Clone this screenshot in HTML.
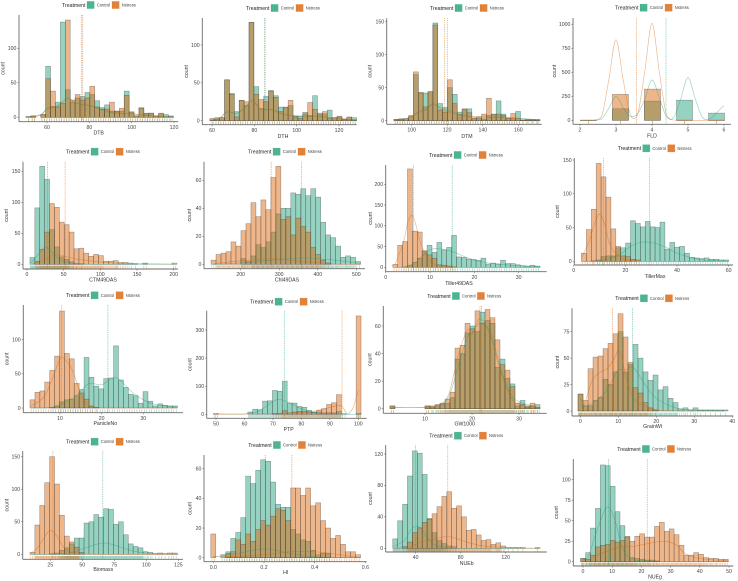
<!DOCTYPE html>
<html lang="en">
<head>
<meta charset="utf-8">
<title>Trait histograms by treatment</title>
<style>
html,body{margin:0;padding:0;background:#fff;width:738px;height:581px;overflow:hidden}
svg{display:block;filter:blur(0.35px);font-family:"Liberation Sans",sans-serif}
</style>
</head>
<body>
<svg id="chart" xmlns="http://www.w3.org/2000/svg" width="738" height="581" viewBox="0 0 738 581"></svg>
<script>
const dtbControl=[1,2,0,4,74,16,22,138,40,22,28,30,36,33,24,14,18,9,9,9,38,7,2,14,6,6,2,5,4,2];
const dtbStress=[1,2,0,4,56,38,15,20,141,25,33,25,28,45,15,12,12,22,9,13,32,8,2,13,5,6,2,6,1,1];
const dtbXTicks=[60,80,100,120];
const dtbYTicks=[0,50,100];
const dtbDensX=[50,57,60,64,67,70,74,80,90,100,110,120];
const dtbDensControl=[0,4,13,15,22,28,20,17,7,5,2,0];
const dtbDensStress=[0,3,12,14,20,27,20,17,8,5,2,0];

const dthControl=[1,4,4,54,36,12,27,20,130,45,16,32,40,33,18,18,20,6,6,11,7,33,10,9,14,4,5,2,4,4];
const dthStress=[3,2,4,54,35,5,27,25,130,35,28,25,39,31,12,17,27,5,3,9,24,15,8,12,3,4,6,2,5,1];
const dthXTicks=[60,80,100,120];
const dthYTicks=[0,50,100];
const dthDensX=[60,64,67,72,76,79,83,88,95,105,110,120,128];
const dthDensControl=[1,4,11,10,18,27,15,15,8,5,6,3,1];
const dthDensStress=[1,4,12,10,19,26,16,14,8,6,6,3,1];

const dtmControl=[2,3,3,6,70,42,42,44,148,26,20,50,40,13,18,18,3,6,2,8,10,30,10,3,3,14,1,2,2,2];
const dtmStress=[2,2,3,8,74,43,21,44,145,16,13,62,26,9,17,12,4,3,10,34,9,10,8,4,11,3,1,1,1,1];
const dtmXTicks=[100,120,140,160];
const dtmYTicks=[0,50,100,150];
const dtmDensX=[90,97,103,108,112,116,122,130,140,150,160,172];
const dtmDensControl=[0,3,12,18,26,20,14,8,4,6,4,1];
const dtmDensStress=[0,3,11,16,25,18,12,7,6,5,3,1];

const fldControl=[1,0,120,0,200,0,210,0,75];
const fldStress=[2,0,270,0,325,0,2,0,2];
const fldXTicks=[2,3,4,5,6];
const fldYTicks=[0,250,500,750,1000];
const fldDensX=[2,2.2,2.4,2.6,2.8,3,3.2,3.4,3.6,3.8,4,4.2,4.4,4.6,4.8,5,5.2,5.4,5.6,5.8,6];
const fldDensControl=[0,0,1,15,125,250,130,40,70,220,420,240,40,30,225,445,225,30,15,80,155];
const fldDensStress=[0,0,1,40,420,840,420,60,60,510,1010,510,60,3,0,0,0,0,0,0,0];

const ctmControl=[11,91,158,137,56,28,12,8,4,1,1];
const ctmStress=[0,5,24,52,98,92,68,64,52,25,26,18,13,16,14,5,5,6,3,3,2,1,0,2,0,0,0,0,0,2];
const ctmXTicks=[0,50,100,150,200];
const ctmYTicks=[0,50,100,150];
const ctmDensX=[5,15,25,35,45,55,70,90,120,160,200];
const ctmDensControl=[2,15,28,18,8,3,1,0,0,0,0];
const ctmDensStress=[0,3,8,14,15,12,8,5,2,1,0.5];

const chlControl=[0,0,0,0,0,0,4,2,6,14,12,16,23,36,40,40,51,50,54,49,54,48,30,21,19,13,5,6,5,2];
const chlStress=[3,7,8,9,16,13,24,29,44,34,46,39,62,70,32,34,21,33,27,23,12,7,3,1];
const chlXTicks=[200,300,400,500];
const chlYTicks=[0,20,40,60];
const chlDensX=[130,200,280,360,440,510];
const chlDensControl=[0,1,3,4.5,3,0.5];
const chlDensStress=[0.5,2.5,4,2,0.3,0];

const tillerControl=[0,0,1,5,12,22,38,53,36,60,42,48,77,25,24,20,19,17,22,8,10,8,17,9,9,6,4,3,5,3];
const tillerStress=[7,53,62,237,87,85,40,30,22,6,5,3,1];
const tillerXTicks=[0,10,20,30];
const tillerYTicks=[0,50,100,150,200];
const tillerDensX=[2,4,5,6,7,8,10,12,15,20,25,30,35];
const tillerDensControl=[0,0,3,8,15,25,42,45,38,17,8,4,1];
const tillerDensStress=[5,60,110,125,95,55,15,5,1,0,0,0,0];

const tillerMaxControl=[0,0,1,2,7,8,8,20,20,27,60,56,51,59,51,50,58,18,28,21,22,12,6,5,4,5,3,3,2,2];
const tillerMaxStress=[12,47,77,145,125,95,48,22,8,7,3,2];
const tillerMaxXTicks=[0,20,40,60];
const tillerMaxYTicks=[0,50,100,150];
const tillerMaxDensX=[3,6,8,10,12,14,18,22,26,30,35,40,45,50,60];
const tillerMaxDensControl=[0,0,0,1,2,4,10,22,28,28,22,12,6,2,0];
const tillerMaxDensStress=[5,30,55,70,55,25,5,1,0,0,0,0,0,0,0];

const panicleControl=[0,0,0,0,1,3,9,12,13,18,27,74,45,32,28,43,44,91,41,30,20,18,7,24,10,3,6,4,3,3];
const panicleStress=[12,23,25,38,55,76,142,80,72,36,22,13,3,1];
const panicleXTicks=[10,20,30];
const panicleYTicks=[0,50,100];
const panicleDensX=[3,6,8,10,11,13,15,17,20,22,24,27,30,33,38];
const panicleDensControl=[0,0,1,5,8,14,25,36,34,42,43,25,12,5,1];
const panicleDensStress=[3,15,40,72,72,55,20,3,0,0,0,0,0,0,0];

const ptpControl=[3,0,0,0,0,0,0,8,18,16,47,48,85,82,118,40,40,28,25,14,8,8,5,6,5,10,2,0,0,3];
const ptpStress=[0,0,0,0,0,0,0,0,0,0,0,0,2,2,13,5,8,10,10,8,6,15,20,35,41,70,0,0,0,350];
const ptpXTicks=[50,60,70,80,90,100];
const ptpYTicks=[0,100,200,300];
const ptpDensX=[50,55,60,65,70,72,75,80,85,90,94,96,98,100];
const ptpDensControl=[2,0.5,1,12,45,53,45,20,5,3,1,0,0,0];
const ptpDensStress=[0,0.5,1,2,3,4,5,6,12,25,30,3,20,85];

const gwControl=[2,0,0,0,0,0,0,2,1,2,4,4,8,36,40,55,60,56,70,64,62,30,36,22,18,2,6,2,2,3];
const gwStress=[2,0,0,0,0,0,0,2,2,3,3,7,12,44,46,62,58,71,62,72,66,50,32,28,16,4,3,1,4,1];
const gwXTicks=[10,20,30];
const gwYTicks=[0,20,40,60];
const gwDensX=[3,10,13,15,17,19,20,21,22,24,26,28,30,34];
const gwDensControl=[1,1,3,8,30,52,55,60,62,55,30,12,5,1];
const gwDensStress=[1,1,3,10,38,57,54,62,65,52,28,10,3,1];

const grainControl=[16,5,5,10,13,30,25,37,75,37,44,63,50,37,29,34,20,23,12,8,2,3,1,3,1,1,1,1,1,1];
const grainStress=[16,10,40,51,52,59,64,73,92,70,46,22,17,8,3,1];
const grainXTicks=[0,10,20,30,40];
const grainYTicks=[0,25,50,75];
const grainDensX=[0,1,3,5,7,9,10,11,12,14,17,20,25,30,38];
const grainDensControl=[5,4,7,12,20,33,39,39,39,41,25,12,3,1,0];
const grainDensStress=[12,6,28,36,40,50,57,50,32,12,5,1,0,0,0];

const biomassControl=[0,0,0,0,1,2,6,10,16,25,25,48,50,61,57,70,69,46,50,30,16,12,10,4,3,1,2,1,2,2];
const biomassStress=[3,45,75,110,150,108,60,28,19,11,3];
const biomassXTicks=[25,50,75,100,125];
const biomassYTicks=[0,50,100,150];
const biomassDensX=[10,15,20,25,30,35,40,50,60,65,70,80,90,100,125];
const biomassDensControl=[0,0,0,0,0,1,2,8,15,17,17,11,5,2,0];
const biomassDensStress=[2,10,25,37,28,12,4,1,0,0,0,0,0,0,0];

const hiControl=[0,0,2,4,13,17,27,55,50,59,66,65,51,36,34,34,19,16,12,11,5,2,3,3];
const hiStress=[16,0,0,3,4,12,9,16,11,19,25,22,28,33,32,25,47,47,42,47,35,37,25,20,13,15,9,4,4,2];
const hiXTicks=[0,0.2,0.4,0.6];
const hiXTickLabels=["0.0","0.2","0.4","0.6"];
const hiYTicks=[0,20,40,60];
const hiDensX=[0,0.1,0.2,0.3,0.4,0.5,0.58];
const hiDensControl=[0.5,3,6,3,0.5,0,0];
const hiDensStress=[1,1,2,4,4,2,0];

const nuebControl=[12,35,56,92,124,121,94,38,20,10,6,3,2];
const nuebStress=[0,0,2,8,20,26,33,37,44,53,66,72,51,54,40,23,24,17,10,11,5,7,3,1,1,1,1,0,0,1];
const nuebXTicks=[40,80,120];
const nuebYTicks=[0,40,80,120];
const nuebDensX=[20,30,35,40,45,50,55,60,68,75,85,100,120,150];
const nuebDensControl=[2,10,22,28,25,14,6,3,1,0,0,0,0,0];
const nuebDensStress=[0,1,2,5,8,10,11,13,15,13,8,3,1,0];

const nuegControl=[4,11,41,65,118,117,92,61,44,30,5,4,3,2,2,1];
const nuegStress=[4,3,8,18,20,21,26,24,26,31,25,31,34,30,30,43,48,37,40,33,20,8,8,11,9,5,4,4,3,3];
const nuegXTicks=[0,10,20,30,40,50];
const nuegYTicks=[0,25,50,75,100];
const nuegDensX=[0,2,4,6,8.5,11,13,15,18,22,28,32,35,40,50];
const nuegDensControl=[2,8,30,50,67,50,22,8,2,1,0,0,0,0,0];
const nuegDensStress=[2,3,6,10,13,16,18,18,19,22,25,20,10,4,1];

const seriesColors={control:"#1b9e77",stress:"#d95f02"};

function P(id,title,control,stress,xTicks,yTicks,densX,densC,densS,bin,means,frame,xAnchor,yAnchor,legend,titleAt,rugMax,xLabels){
  return {id,title,control,stress,xTicks,yTicks,densX,densC,densS,bin,means,frame,xAnchor,yAnchor,legend,titleAt,rugMax,xLabels};
}
const panels=[
P("dtb","DTB",dtbControl,dtbStress,dtbXTicks,dtbYTicks,dtbDensX,dtbDensControl,dtbDensStress,[50.08,2.32],[76.4,76.9],[19,178.3,15,121.7],[60,47,120,174],[0,117.3,100,48.3],[62,5],[98.7,132.7,4.3],2),
P("dth","DTH",dthControl,dthStress,dthXTicks,dthYTicks,dthDensX,dthDensControl,dthDensStress,[59,2.31],[84.9,85.1],[202.3,356.7,18,124.7],[60,212,120,339],[0,120.7,100,45],[246,8],[283,136,188],2),
P("dtm","DTM",dtmControl,dtmStress,dtmXTicks,dtmYTicks,dtmDensX,dtmDensControl,dtmDensStress,[90,2.74],[120,118.5],[386.7,541.7,18.3,124.3],[100,411.7,160,518.3],[0,120.7,150,21.7],[430,8],[467,136,371.5],2),
P("fld","FLD",fldControl,fldStress,fldXTicks,fldYTicks,fldDensX,fldDensControl,fldDensStress,[2.01,0.445],[4.39,3.57],[573,731,18,124.3],[2,580,6,724],[0,120.3,1000,24.3],[615,7.7],[652,135.7,556],1),
P("ctm","CTM49DAS",ctmControl,ctmStress,ctmXTicks,ctmYTicks,ctmDensX,ctmDensControl,ctmDensStress,[4,6.68],[28,52],[23,178,161.7,269],[0,27,200,173.7],[0,264.3,150,171.3],[66,151.7],[103,279.5,8],8),
P("chl","Chl49DAS",chlControl,chlStress,chlXTicks,chlYTicks,chlDensX,chlDensControl,chlDensStress,[123,12.94],[358,279],[204,365,161.7,268.7],[200,240.7,500,356.3],[0,264.3,60,180.3],[248,151.7],[287,279.5,191],6),
P("tiller","Tiller49DAS",tillerControl,tillerStress,tillerXTicks,tillerYTicks,tillerDensX,tillerDensControl,tillerDensStress,[1.6,1.105],[15,6.3],[385.7,546.7,165,271.7],[0,385.7,30,518.7],[0,267.3,200,184.3],[429,155],[459,283,372],2),
P("tillermax","TillerMax",tillerMaxControl,tillerMaxStress,tillerMaxXTicks,tillerMaxYTicks,tillerMaxDensX,tillerMaxDensControl,tillerMaxDensStress,[3,1.9],[29.3,11.5],[574.3,733,158,265],[0,573.7,60,728.7],[0,261.3,150,160],[617.7,148.3],[655,276,559],2),
P("panicle","PanicleNo",panicleControl,panicleStress,panicleXTicks,panicleYTicks,panicleDensX,panicleDensControl,panicleDensStress,[2.8,1.18],[21.5,10.4],[23.3,183,305,412.7],[10,60,30,143.3],[0,408,100,339.7],[66,295.3],[105.3,423.3,8.3],2),
P("ptp","PTP",ptpControl,ptpStress,ptpXTicks,ptpYTicks,ptpDensX,ptpDensControl,ptpDensStress,[49.06,1.73],[74,94.3],[206.7,366.7,310.7,418.3],[50,216,100,358.3],[0,414.3,300,330],[250,301.7],[288.7,429.3,191.7],5),
P("gw","GW1000",gwControl,gwStress,gwXTicks,gwYTicks,gwDensX,gwDensControl,gwDensStress,[2.55,1.064],[22,21.7],[383.3,546.7,306,413.3],[10,425,30,519],[0,408.7,60,326],[427.3,296],[464.7,423.7,371.5],5),
P("grain","GrainWt",grainControl,grainStress,grainXTicks,grainYTicks,grainDensX,grainDensControl,grainDensStress,[-0.6,1.316],[13.7,8.5],[572,733.3,308.3,416],[0,580.3,40,732.3],[0,411,75,331.7],[615.3,298.3],[652.7,426.3,559],6),
P("biomass","Biomass",biomassControl,biomassStress,biomassXTicks,biomassYTicks,biomassDensX,biomassDensControl,biomassDensStress,[9.1,3.84],[66,27],[22.7,183,451,559.3],[25,50.3,125,178.3],[0,554.3,150,456.7],[66,441.7],[103.3,569.3,8.3],8),
P("hi","HI",hiControl,hiStress,hiXTicks,hiYTicks,hiDensX,hiDensControl,hiDensStress,[-0.01,0.0197],[0.205,0.31],[204,366.7,455,561.7],[0,213.3,0.4,314.7],[0,557.7,60,468.7],[248.3,445],[285.7,572.3,191.7],2,hiXTickLabels),
P("nueb","NUEb",nuebControl,nuebStress,nuebXTicks,nuebYTicks,nuebDensX,nuebDensControl,nuebDensStress,[19.6,4.365],[40,68.5],[385.7,546.7,445,552],[40,415.7,120,505.7],[0,548.3,120,454],[429.3,435.7],[466.7,563,372],8),
P("nueg","NUEg",nuegControl,nuegStress,nuegXTicks,nuegYTicks,nuegDensX,nuegDensControl,nuegDensStress,[-0.8,1.684],[8.7,22],[573.3,733.3,459,566],[0,583,50,729],[0,561.7,100,479.7],[617.3,449],[655,576.7,558],6)
];

const NS="http://www.w3.org/2000/svg";
const root=document.getElementById("chart");
function el(tag,attrs,parent){
  const e=document.createElementNS(NS,tag);
  for(const k in attrs){e.setAttribute(k,attrs[k]);}
  parent.appendChild(e);
  return e;
}
function linear(a,ap,b,bp){
  return v=>ap+(v-a)*(bp-ap)/(b-a);
}
function smoothPath(pts,floor){
  let d="M"+pts[0][0].toFixed(2)+" "+pts[0][1].toFixed(2);
  for(let i=0;i<pts.length-1;i++){
    const p0=pts[Math.max(0,i-1)],p1=pts[i],p2=pts[i+1],p3=pts[Math.min(pts.length-1,i+2)];
    const c1x=p1[0]+(p2[0]-p0[0])/6,c1y=Math.min(floor,p1[1]+(p2[1]-p0[1])/6);
    const c2x=p2[0]-(p3[0]-p1[0])/6,c2y=Math.min(floor,p2[1]-(p3[1]-p1[1])/6);
    d+="C"+c1x.toFixed(2)+" "+c1y.toFixed(2)+" "+c2x.toFixed(2)+" "+c2y.toFixed(2)+" "+p2[0].toFixed(2)+" "+p2[1].toFixed(2);
  }
  return d;
}
function drawBars(g,counts,bin,x,y,color,label){
  counts.forEach((c,i)=>{
    if(c<=0)return;
    const x0=x(bin[0]+i*bin[1]),x1=x(bin[0]+(i+1)*bin[1]);
    const r=el("rect",{x:x0.toFixed(2),y:y(c).toFixed(2),width:(x1-x0).toFixed(2),height:Math.max(0.3,y(0)-y(c)).toFixed(2),fill:color,"fill-opacity":0.46,stroke:"#333","stroke-opacity":0.48,"stroke-width":0.55},g);
    
    
  });
}
function drawRug(g,counts,bin,x,base,color,maxTicks,label){
  counts.forEach((c,i)=>{
    if(c<=0)return;
    const n=Math.min(c,maxTicks);
    for(let k=0;k<n;k++){
      const v=bin[0]+(i+(k+0.5)/n)*bin[1];
      const t=el("line",{x1:x(v).toFixed(2),x2:x(v).toFixed(2),y1:(base-3.4).toFixed(2),y2:(base-0.4).toFixed(2),stroke:color,"stroke-opacity":0.5,"stroke-width":0.55},g);
      
      
    }
  });
}
function txt(g,x,y,s,size,color,anchor){
  const t=el("text",{x:x,y:y,"font-size":size,fill:color,"text-anchor":anchor||"middle"},g);
  t.textContent=s;
  return t;
}

panels.forEach(p=>{
  const [L,R,T,B]=p.frame;
  const x=linear(p.xAnchor[0],p.xAnchor[1],p.xAnchor[2],p.xAnchor[3]);
  const y=linear(p.yAnchor[0],p.yAnchor[1],p.yAnchor[2],p.yAnchor[3]);
  const g=el("g",{},root);
  
  

  drawRug(g,p.control,p.bin,x,B,seriesColors.control,p.rugMax,'control');
  drawRug(g,p.stress,p.bin,x,B,seriesColors.stress,p.rugMax,'nstress');
  drawBars(g,p.control,p.bin,x,y,seriesColors.control,'control');
  drawBars(g,p.stress,p.bin,x,y,seriesColors.stress,'nstress');

  [[p.densC,seriesColors.control,'control-density'],[p.densS,seriesColors.stress,'nstress-density']].forEach(d=>{
    const pts=d[0].map((v,i)=>[x(p.densX[i]),y(v)]);
    const c=el("path",{d:smoothPath(pts,y(0)),fill:"none",stroke:d[1],"stroke-opacity":0.5,"stroke-width":0.6},g);
    
    
  });

  [seriesColors.control,seriesColors.stress].forEach((col,i)=>{
    const m=el("line",{x1:x(p.means[i]).toFixed(2),x2:x(p.means[i]).toFixed(2),y1:T,y2:B,stroke:col,"stroke-opacity":0.7,"stroke-width":0.7,"stroke-dasharray":"0.9 0.9"},g);
    
    
  });

  const yAxis=el("line",{x1:L,x2:L,y1:T,y2:B,stroke:"#6a6a6a","stroke-width":0.9},g);
  
  
  const xAxis=el("line",{x1:L,x2:R,y1:B,y2:B,stroke:"#6a6a6a","stroke-width":0.9},g);
  
  

  p.xTicks.forEach((v,i)=>{
    const tk=el("line",{x1:x(v),x2:x(v),y1:B,y2:B+1.6,stroke:"#555","stroke-width":0.5},g);
    
    
    const lb=txt(g,x(v),B+7.2,p.xLabels?p.xLabels[i]:String(v),5.2,"#444");
    
    
  });
  p.yTicks.forEach(v=>{
    const tk=el("line",{x1:L-1.6,x2:L,y1:y(v),y2:y(v),stroke:"#555","stroke-width":0.5},g);
    
    
    const lb=txt(g,L-2.6,y(v)+1.8,String(v),5.2,"#444","end");
    
    
  });

  const xt=txt(g,p.titleAt[0],p.titleAt[1]+1.8,p.title,5.2,"#333");
  
  
  const yy=(T+B)/2;
  const yt=txt(g,p.titleAt[2],yy,"count",5.2,"#333");
  yt.setAttribute('transform','rotate(-90 '+p.titleAt[2]+' '+yy+')');
  
  

  const lx=p.legend[0],ly=p.legend[1];
  const lg=el("g",{},g);
  
  
  const lt=txt(lg,lx,ly+1.8,"Treatment",5.2,"#222","start");
  
  
  [["Control",seriesColors.control,25],["Nstress",seriesColors.stress,50]].forEach(it=>{
    const sw=el("rect",{x:lx+it[2],y:ly-3.6,width:7.2,height:7.2,fill:it[1],"fill-opacity":0.78,stroke:it[1],"stroke-opacity":0.3,"stroke-width":0.6},lg);
    
    
    const tx=txt(lg,lx+it[2]+9.7,ly+1.5,it[0],4.2,"#444","start");
    
    
  });
});
</script>
</body>
</html>
